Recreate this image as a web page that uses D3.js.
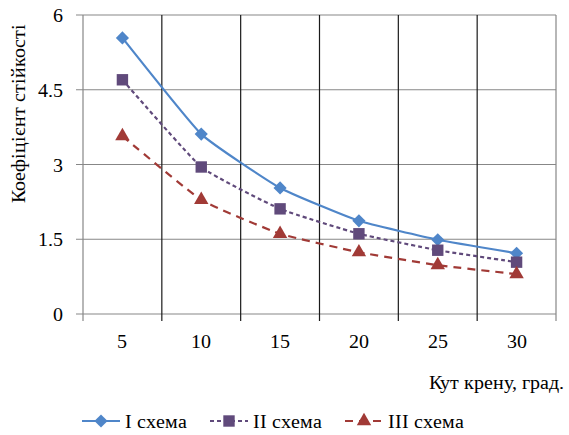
<!DOCTYPE html>
<html>
<head>
<meta charset="utf-8">
<script src="https://cdn.jsdelivr.net/npm/d3@7"></script>
<style>
  @font-face { font-family: "ChartSerif"; src: local("Liberation Serif"), local("LiberationSerif"), local("LiberationSerif-Regular"), local("DejaVu Serif"), local("DejaVuSerif"); }
  body { margin: 0; background: #fff; }
  svg text { font-family: "ChartSerif", "Liberation Serif", "DejaVu Serif", serif; }
</style>
</head>
<body>
<svg id="chart" width="569" height="435"></svg>
<script>
const angles = [5, 10, 15, 20, 25, 30]
const scheme1 = [5.54, 3.61, 2.53, 1.87, 1.49, 1.22]
const scheme2 = [4.70, 2.95, 2.11, 1.61, 1.28, 1.04]
const scheme3 = [3.57, 2.29, 1.61, 1.24, 0.98, 0.80]
const yTicks = [0, 1.5, 3, 4.5, 6]
const seriesNames = ["I схема", "II схема", "III схема"]

const series = [
  {name: seriesNames[0], values: scheme1, color: "#4f86c9", dash: null, marker: "diamond"},
  {name: seriesNames[1], values: scheme2, color: "#604a7b", dash: "4,3", marker: "square"},
  {name: seriesNames[2], values: scheme3, color: "#a13a36", dash: "8,6", marker: "triangle"}
]

const svg = d3.select("#chart")
const plotL = 83, plotR = 556, plotT = 15, plotB = 314

const x = d3.scaleBand().domain(angles).range([plotL, plotR]).padding(0)
const y = d3.scaleLinear().domain([0, 6]).range([plotB, plotT])

// horizontal grid
svg.append("g").selectAll("line")
  .data(yTicks)
  .join("line")
  .attr("x1", plotL - 7).attr("x2", plotR)
  .attr("y1", d => y(d)).attr("y2", d => y(d))
  .attr("stroke", "#878787").attr("stroke-width", 1.2)

// vertical grid at category boundaries
const bounds = angles.map(d => x(d)).concat([plotR])
svg.append("g").selectAll("line")
  .data(bounds)
  .join("line")
  .attr("x1", d => d).attr("x2", d => d)
  .attr("y1", plotT).attr("y2", plotB + 7)
  .attr("stroke", (d, i) => (i === 0 || i === bounds.length - 1) ? "#878787" : "#1a1a1a")
  .attr("stroke-width", 1.2)

// y tick labels
svg.append("g").selectAll("text")
  .data(yTicks)
  .join("text")
  .attr("x", 63).attr("y", d => y(d) + 7)
  .attr("text-anchor", "end")
  .attr("font-size", 20)
  .text(d => d)

// x tick labels
svg.append("g").selectAll("text")
  .data(angles)
  .join("text")
  .attr("x", d => x(d) + x.bandwidth() / 2).attr("y", 348)
  .attr("text-anchor", "middle")
  .attr("font-size", 20)
  .text(d => d)

// axis titles
svg.append("text")
  .attr("transform", `translate(25,113) rotate(-90)`)
  .attr("text-anchor", "middle")
  .attr("font-size", 20)
  .text("Коефіцієнт  стійкості")

svg.append("text")
  .attr("x", 564).attr("y", 389)
  .attr("text-anchor", "end")
  .attr("font-size", 20)
  .text("Кут крену, град.")

const symbols = {
  diamond: d3.symbol().type(d3.symbolDiamond2).size(110),
  square: d3.symbol().type(d3.symbolSquare).size(130),
  triangle: d3.symbol().type(d3.symbolTriangle).size(90)
}

const line = d3.line()
  .x((d, i) => x(angles[i]) + x.bandwidth() / 2)
  .y(d => y(d))
  .curve(d3.curveCardinal.tension(0.6))

series.forEach(s => {
  svg.append("path")
    .attr("d", line(s.values))
    .attr("fill", "none")
    .attr("stroke", s.color)
    .attr("stroke-width", 2.2)
    .attr("stroke-dasharray", s.dash)
  svg.append("g").selectAll("path")
    .data(s.values)
    .join("path")
    .attr("transform", (d, i) => `translate(${x(angles[i]) + x.bandwidth() / 2},${y(d)})`)
    .attr("d", symbols[s.marker]())
    .attr("fill", s.color)
})

// legend
const legendX = [82, 210, 345]
const legend = svg.append("g")
series.forEach((s, i) => {
  const g = legend.append("g").attr("transform", `translate(${legendX[i]},421)`)
  g.append("line").attr("x1", 0).attr("x2", 38).attr("y1", 0).attr("y2", 0)
    .attr("stroke", s.color).attr("stroke-width", 2.2).attr("stroke-dasharray", s.dash)
  g.append("path").attr("transform", "translate(19,0)").attr("d", symbols[s.marker]()).attr("fill", s.color)
  g.append("text").attr("x", 43).attr("y", 7).attr("font-size", 20).text(s.name)
})
</script>
</body>
</html>
